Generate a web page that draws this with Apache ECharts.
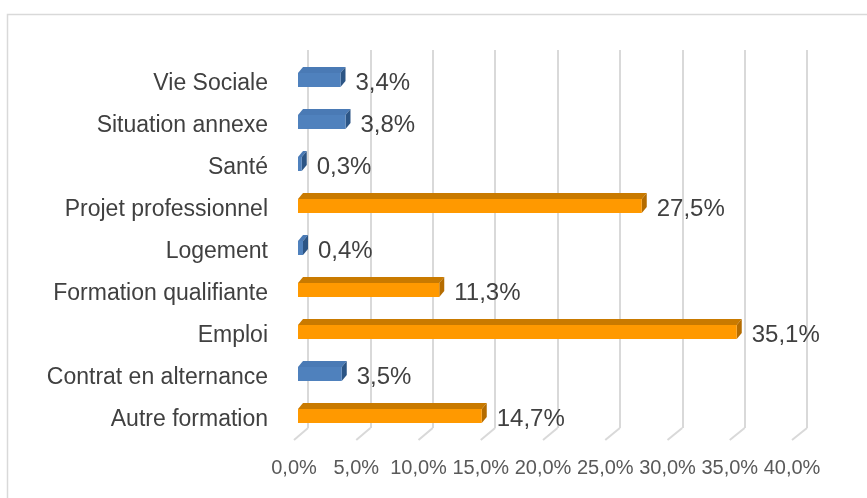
<!DOCTYPE html>
<html>
<head>
<meta charset="utf-8">
<script src="https://cdn.jsdelivr.net/npm/echarts@6/dist/echarts.min.js"></script>
<style>
  html, body { margin: 0; padding: 0; background: #fff; }
  #chart { width: 867px; height: 498px; }
</style>
</head>
<body>
<div id="chart"></div>
<script type="text/javascript">
	// categories from bottom to top, as on the axis
	var categories = ['Autre formation', 'Contrat en alternance', 'Emploi', 'Formation qualifiante',
		'Logement', 'Projet professionnel', 'Santé', 'Situation annexe', 'Vie Sociale'];
	// blue bars and orange bars (same order as categories, null = no bar)
	var blueValues = [null, 3.5, null, null, 0.4, null, 0.3, 3.8, 3.4];
	var orangeValues = [14.7, null, 35.1, 11.3, null, 27.5, null, null, null];
	var axisMin = 0, axisMax = 40, axisStep = 5;

	var fontName = '"Liberation Sans", Arial, sans-serif';

	function pct(v) {
		return v.toFixed(1).replace('.', ',') + '%';
	}

	function toData(list) {
		var out = [];
		for (var i = 0; i < list.length; i++) {
			if (list[i] != null) out.push([list[i], i]);
		}
		return out;
	}

	// 3D-looking bar: front face, top face, right face + label
	function bar3d(front, top, side) {
		return function (params, api) {
			var v = api.value(0), idx = api.value(1);
			var p0 = api.coord([0, idx]);
			var p1 = api.coord([v, idx]);
			var h = 14, dx = 5, dy = 6;
			var y0 = p0[1] - h / 2, y1 = p0[1] + h / 2;
			var x0 = p0[0], x1 = p1[0];
			return {
				type: 'group',
				children: [
					{ type: 'polygon', shape: { points: [[x0, y0], [x1, y0], [x1 + dx, y0 - dy], [x0 + dx, y0 - dy]] }, style: { fill: top } },
					{ type: 'polygon', shape: { points: [[x1, y0], [x1 + dx, y0 - dy], [x1 + dx, y1 - dy], [x1, y1]] }, style: { fill: side } },
					{ type: 'rect', shape: { x: x0, y: y0, width: x1 - x0, height: h }, style: { fill: front } },
					{ type: 'text', style: { x: x1 + dx + 10, y: p0[1] + 3, text: pct(v), fill: '#404040',
						fontSize: 24, fontFamily: fontName, verticalAlign: 'middle', align: 'left' } }
				]
			};
		};
	}

	var chart = echarts.init(document.getElementById('chart'));

	var floorTop = 428, floorBottom = 440;

	var option = {
		animation: false,
		backgroundColor: '#fff',
		grid: [
			{ left: 298, width: 500, top: 59, height: 378 },          // bars
			{ left: 308, width: 499, top: 50, height: floorTop - 50 }, // back wall
			{ left: 294, width: 498, top: floorBottom - 1, height: 1 } // floor front / tick labels
		],
		xAxis: [
			{ gridIndex: 0, type: 'value', min: axisMin, max: axisMax, interval: axisStep, show: false },
			{ gridIndex: 1, type: 'value', min: axisMin, max: axisMax, interval: axisStep,
				axisLine: { show: false }, axisTick: { show: false }, axisLabel: { show: false },
				splitLine: { show: true, lineStyle: { color: '#d9d9d9', width: 2 } } },
			{ gridIndex: 2, type: 'value', min: axisMin, max: axisMax, interval: axisStep,
				axisLine: { show: false }, axisTick: { show: false }, splitLine: { show: false },
				axisLabel: { margin: 18, color: '#595959', fontSize: 20, fontFamily: fontName, formatter: pct } }
		],
		yAxis: [
			{ gridIndex: 0, type: 'category', data: categories,
				axisLine: { show: false }, axisTick: { show: false },
				axisLabel: { margin: 30, formatter: function (s) { return '{c|' + s + '}'; },
					rich: { c: { color: '#404040', fontSize: 23, fontFamily: fontName, padding: [7, 0, 0, 0] } } } },
			{ gridIndex: 1, type: 'value', show: false },
			{ gridIndex: 2, type: 'value', show: false }
		],
		series: [
			{ name: 'blue', type: 'custom', xAxisIndex: 0, yAxisIndex: 0, clip: false,
				renderItem: bar3d('#4f81bd', '#4a7ab5', '#2c5585'), data: toData(blueValues) },
			{ name: 'orange', type: 'custom', xAxisIndex: 0, yAxisIndex: 0, clip: false,
				renderItem: bar3d('#ff9900', '#c97a00', '#b56c00'), data: toData(orangeValues) }
		]
	};
	chart.setOption(option);

	// floor lines from the front edge (tick labels) to the back wall
	var graphics = [
		{ type: 'rect', shape: { x: 7.5, y: 14.5, width: 1000, height: 1000 },
			style: { fill: null, stroke: '#d9d9d9', lineWidth: 1.5 }, z: 0 }
	];
	for (var v = axisMin; v <= axisMax; v += axisStep) {
		var back = chart.convertToPixel({ xAxisIndex: 1 }, v);
		var front = chart.convertToPixel({ xAxisIndex: 2 }, v);
		graphics.push({ type: 'line', shape: { x1: front, y1: floorBottom, x2: back, y2: floorTop },
			style: { stroke: '#d9d9d9', lineWidth: 2 }, z: 0 });
	}
	chart.setOption({ graphic: graphics });
</script>
</body>
</html>
